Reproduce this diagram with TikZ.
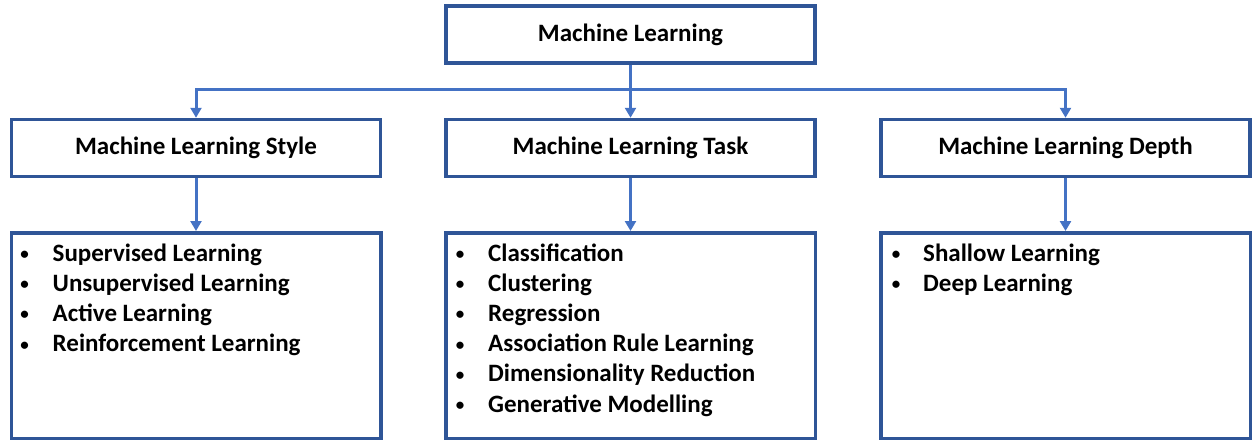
\documentclass[tikz,border=0pt]{standalone}
\usepackage{fontspec}
\setmainfont{Carlito}
\usetikzlibrary{arrows.meta,calc}
\definecolor{boxblue}{HTML}{2F5597}
\definecolor{linkblue}{HTML}{4472C4}
\begin{document}
\begin{tikzpicture}[x=1pt,y=-1pt,
  box/.style={draw=boxblue, line width=3.5pt, fill=white, inner sep=0pt},
  headbox/.style={box, minimum width=369pt, minimum height=57pt,
    font=\fontsize{25}{28}\selectfont\bfseries},
  listbox/.style={box, minimum width=369.5pt, minimum height=205.5pt},
  itemtxt/.style={inner sep=0pt, anchor=base west, font=\fontsize{25}{28}\selectfont\bfseries},
  bul/.style={inner sep=0pt, anchor=base, font=\fontsize{17}{20}\selectfont\bfseries},
  link/.style={draw=linkblue, line width=3pt, -{Triangle[length=10pt,width=11pt]}},
  bus/.style={draw=linkblue, line width=3pt}
]
\useasboundingbox (0,0) rectangle (1253,442);

\node[headbox] (top) at (630.5,34.5) {Machine Learning};
\node[headbox] (ms) at (196,148) {Machine Learning Style};
\node[headbox] (mt) at (630.5,148) {Machine Learning Task};
\node[headbox] (md) at (1065.5,148) {Machine Learning Depth};

\node[listbox] (ls) at (196,335.5) {};
\node[listbox] (lt) at (630.5,335.5) {};
\node[listbox] (ld) at (1065.5,335.5) {};

\coordinate (bus) at (630.5,89);
\draw[bus] (top.south) -- (bus);
\draw[link] (bus) -| (ms.north);
\draw[link] (bus) -- (mt.north);
\draw[link] (bus) -| (md.north);

\draw[link] (ms.south) -- (ls.north);
\draw[link] (mt.south) -- (lt.north);
\draw[link] (md.south) -- (ld.north);

\foreach [count=\i] \t in {Supervised Learning, Unsupervised Learning, Active Learning, Reinforcement Learning} {
  \node[bul] (lsb\i) at ($(ls.north west)+(15,28.5+30.2*\i-30.2)$) {•};
  \node[itemtxt] (lsi\i) at ($(ls.north west)+(43,30+30.2*\i-30.2)$) {\t};
}
\foreach [count=\i] \t in {Classification, Clustering, Regression, Association Rule Learning, Dimensionality Reduction, Generative Modelling} {
  \node[bul] (ltb\i) at ($(lt.north west)+(16,28.5+30.2*\i-30.2)$) {•};
  \node[itemtxt] (lti\i) at ($(lt.north west)+(44,30+30.2*\i-30.2)$) {\t};
}
\foreach [count=\i] \t in {Shallow Learning, Deep Learning} {
  \node[bul] (ldb\i) at ($(ld.north west)+(17,28.5+30.2*\i-30.2)$) {•};
  \node[itemtxt] (ldi\i) at ($(ld.north west)+(44,30+30.2*\i-30.2)$) {\t};
}
\end{tikzpicture}
\end{document}
